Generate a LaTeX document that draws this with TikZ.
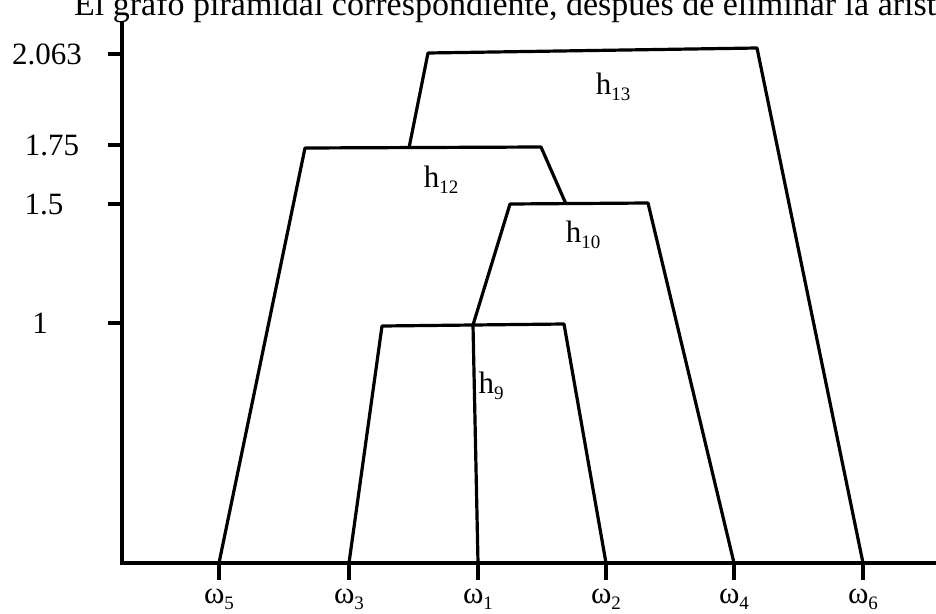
\documentclass[tikz,border=0pt]{standalone}
\usepackage{fontspec}
\setmainfont{Liberation Serif}
\usetikzlibrary{positioning}
\newcommand{\ix}[1]{\raisebox{-0.2em}{\fontsize{19}{20}\selectfont #1}}

\begin{document}
\begin{tikzpicture}[x=1pt, y=-1pt,
  axis/.style={line width=3.2pt},
  tree/.style={line width=3.2pt, line join=round},
  lbl/.style={font=\fontsize{31}{36}\selectfont, inner sep=0pt}]
  \useasboundingbox (0,0) rectangle (936,613);

  % title, cut by the top edge
  \node[lbl, font=\fontsize{34}{40}\selectfont, anchor=base west] (title) at (74,16) {El grafo piramidal correspondiente, después de eliminar la arista};

  % axes
  \coordinate (ytop) at (122,22);
  \coordinate (orig) at (122,563);
  \coordinate (xend) at (936,563);
  \draw[axis] (ytop) -- (orig) -- (xend);

  % levels
  \foreach \y/\t/\lx [count=\k] in {54/2.063/47, 145/1.75/52, 204/1.5/44, 323/1/40} {
    \coordinate (lv\k) at (122,\y);
    \draw[axis] (lv\k) -- ++(-14,0);
    \node[lbl] (lt\k) at (\lx,\y) {\t};
  }

  % leaves
  \foreach \x/\i in {219/5, 349/3, 478/1, 606/2, 734/4, 863/6} {
    \coordinate (w\i) at (\x,563);
    \draw[axis] (w\i) -- ++(0,17) coordinate (t\i);
    \node[lbl, below=9pt of t\i] (lw\i) {ω\ix{\i}};
  }

  % corners of the levels
  \coordinate (h13l) at (428,53);  \coordinate (h13r) at (757,48);
  \coordinate (h12l) at (305,148); \coordinate (h12r) at (541,147);
  \coordinate (h10l) at (510,204); \coordinate (h10r) at (648,203);
  \coordinate (h9l) at (382,326);  \coordinate (h9r) at (564,324);
  % junctions
  \coordinate (j13) at (409,148);
  \coordinate (j12) at (566,204);
  \coordinate (j10) at (473,325);

  \draw[tree] (j13) -- (h13l) -- (h13r) -- (w6);
  \draw[tree] (w5) -- (h12l) -- (h12r) -- (j12);
  \draw[tree] (j10) -- (h10l) -- (h10r) -- (w4);
  \draw[tree] (w3) -- (h9l) -- (h9r) -- (w2);
  \draw[tree] (j10) -- (w1);

  \node[lbl] (n13) at (613,87) {h\ix{13}};
  \node[lbl] (n12) at (441,180) {h\ix{12}};
  \node[lbl] (n10) at (583,235) {h\ix{10}};
  \node[lbl] (n9) at (491,386) {h\ix{9}};
\end{tikzpicture}
\end{document}
